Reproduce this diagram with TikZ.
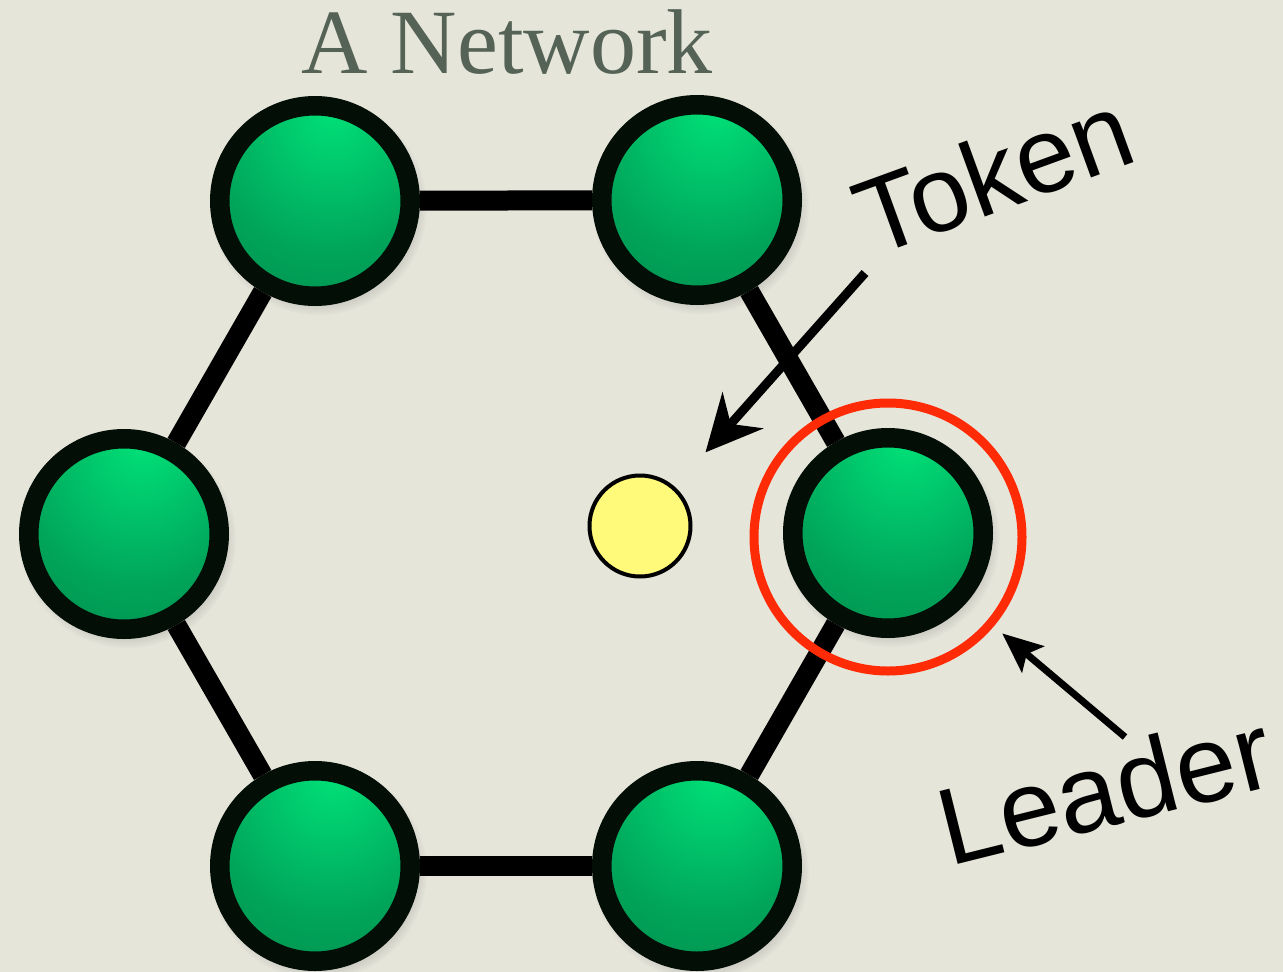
\documentclass[tikz,border=0pt]{standalone}
\usepackage{fontspec}
\newfontfamily\labelfont{Liberation Sans}
\newfontfamily\titlefont{Liberation Serif}
\usepackage{tikz}
\usetikzlibrary{arrows.meta,shadows}
\usepackage{xcolor}
\definecolor{paper}{RGB}{230,229,218}
\definecolor{titlegray}{RGB}{85,99,86}
\definecolor{peerborder}{RGB}{2,14,6}
\definecolor{ballhi}{RGB}{0,226,121}
\definecolor{ballmid}{RGB}{0,165,90}
\definecolor{balllo}{RGB}{0,100,54}
\definecolor{tokenyellow}{RGB}{255,250,122}
\definecolor{leaderred}{RGB}{255,42,6}
\pgfdeclareradialshading{greenball}{\pgfpoint{5bp}{25bp}}{color(0bp)=(ballhi); color(30bp)=(ballmid); color(78bp)=(balllo); color(90bp)=(balllo)}
\tikzstyle{peer} = [circle, minimum size=190.5bp, inner sep=0pt, draw=peerborder, line width=19.5bp, shading=greenball, circular drop shadow={shadow scale=1.14, shadow xshift=3bp, shadow yshift=-5bp, opacity=0.35}]
\tikzstyle{link} = [draw=black, line width=20bp]
\tikzstyle{token} = [circle, minimum size=101bp, inner sep=0pt, draw=black, line width=4bp, fill=tokenyellow]
\tikzstyle{ring} = [circle, minimum size=268bp, inner sep=0pt, draw=leaderred, line width=9bp]
\tikzstyle{tag} = [inner sep=0pt, font=\labelfont\fontsize{107bp}{120bp}\selectfont]
\tikzstyle{pointer} = [line width=9bp, -{Stealth[length=56bp,width=54bp,inset=18bp]}]
\tikzstyle{leadpointer} = [line width=7bp, -{Stealth[length=40bp,width=34bp,inset=8bp]}]

\begin{document}
\begin{tikzpicture}[x=1bp, y=-1bp]
\useasboundingbox (0,0) rectangle (1283,972);
\fill[paper] (0,0) rectangle (1283,972);

\node[anchor=base, text=titlegray, inner sep=0pt, font=\titlefont\fontsize{92bp}{100bp}\selectfont] (title) at (507,73) {A Network};

% the ring of six peers
\node[peer] (tl) at (315,201) {};
\node[peer] (tr) at (697,200) {};
\node[peer] (l) at (124,534) {};
\node[peer] (r) at (888,533) {};
\node[peer] (bl) at (315,866) {};
\node[peer] (br) at (697,866) {};

\draw[link] (tl) -- (tr);
\draw[link] (tr) -- (r);
\draw[link] (r) -- (br);
\draw[link] (br) -- (bl);
\draw[link] (bl) -- (l);
\draw[link] (l) -- (tl);

\node[token] (token) at (640,526) {};
\node[ring] (ring) at (888,537) {};

% labels and their arrows
\node[tag, anchor=base west, rotate=20] (tokenlabel) at (872,258) {Token};
\node[tag, anchor=base west, rotate=14, font=\labelfont\fontsize{109bp}{120bp}\selectfont] (leaderlabel) at (949,867) {Leader};

\coordinate (tokentail) at (865,273);
\coordinate (leadertail) at (1125,737);
\draw[pointer, shorten >=46bp] (tokentail) -- (token);
\draw[leadpointer, shorten >=11bp] (leadertail) -- (ring);
\end{tikzpicture}
\end{document}
